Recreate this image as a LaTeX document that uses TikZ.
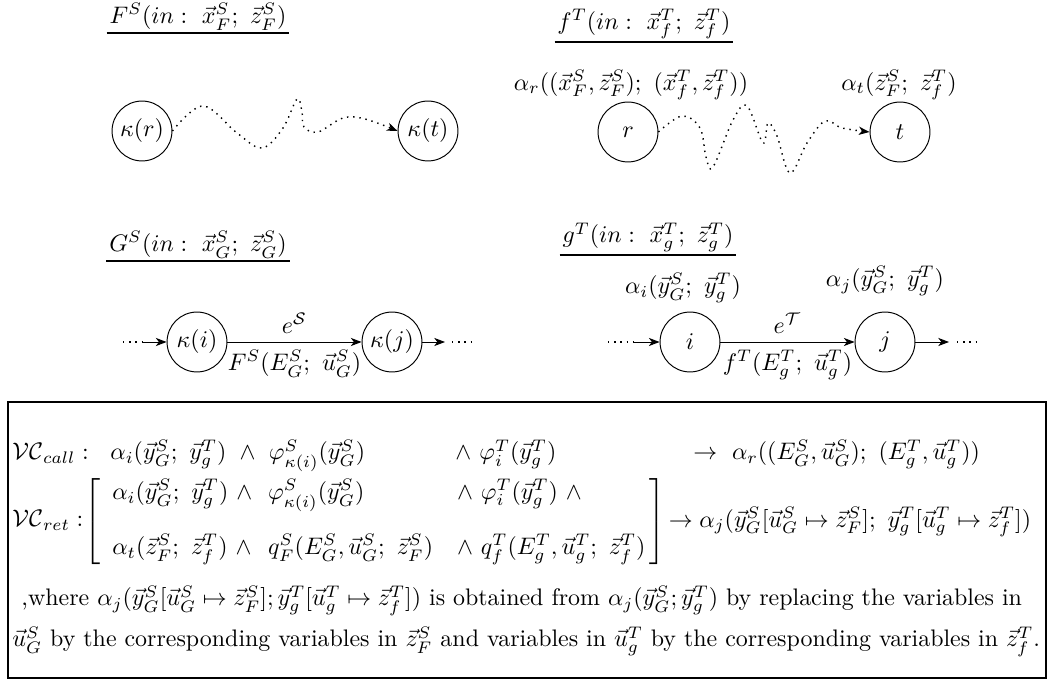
\documentclass[tikz,border=0pt]{standalone}
\usepackage{amsmath, amssymb}
\usetikzlibrary{arrows.meta}

\tikzset{
  state/.style={circle, draw, inner sep=0pt, minimum size=0.88cm},
  heading/.style={inner sep=1pt, anchor=south},
  tip/.style={-{Stealth[length=4.5pt, width=3.4pt, inset=1.3pt]}},
  wave/.style={dotted, semithick, tip},
  edge/.style={tip},
  lbl/.style={anchor=base west, inner sep=0pt}
}

\begin{document}
\begin{tikzpicture}[x=0.0147cm, y=-0.0147cm]
  \useasboundingbox (0,0) rectangle (1051,690);

  % headings
  \node[heading] (hF) at (198,33) {$F^S(in:\ \vec{x}^S_F;\ \vec{z}^S_F)$};
  \node[heading] (hf) at (644,42) {$f^T(in:\ \vec{x}^T_f;\ \vec{z}^T_f)$};
  \node[heading] (hG) at (198,261) {$G^S(in:\ \vec{x}^S_G;\ \vec{z}^S_G)$};
  \node[heading] (hg) at (648,255) {$g^T(in:\ \vec{x}^T_g;\ \vec{z}^T_g)$};
  \foreach \h in {hF,hf,hG,hg}
    \draw[line width=1.2pt] (\h.south west) -- (\h.south east);

  % states
  \node[state] (kr) at (142,131) {$\kappa(r)$};
  \node[state] (kt) at (428,131) {$\kappa(t)$};
  \node[state] (r) at (628,132) {$r$};
  \node[state] (t) at (900,132) {$t$};
  \node[state] (ki) at (197,342) {$\kappa(i)$};
  \node[state] (kj) at (392,342) {$\kappa(j)$};
  \node[state] (i) at (690,342) {$i$};
  \node[state] (j) at (885,342) {$j$};

  % invariants
  \node (ar) at (631,85) {$\alpha_r((\vec{x}^S_F,\vec{z}^S_F);\ (\vec{x}^T_f,\vec{z}^T_f))$};
  \node (at) at (899,85) {$\alpha_t(\vec{z}^S_F;\ \vec{z}^T_f)$};
  \node (ai) at (683,288) {$\alpha_i(\vec{y}^S_G;\ \vec{y}^T_g)$};
  \node (aj) at (885,281) {$\alpha_j(\vec{y}^S_G;\ \vec{y}^T_g)$};

  % paths
  \draw[wave] plot[smooth, tension=0.6] coordinates {(kr.east) (203,106) (237,133) (262,148)
    (283,128) (297,99) (302,112) (304,127) (318,132) (343,118) (365,119) (kt.west)};
  \draw[wave] plot[smooth, tension=0.6] coordinates {(r.east) (682,116) (700,128) (706,157)
    (713,167) (733,120) (747,106) (763,143) (768,123) (777,136) (790,173) (807,143)
    (825,121) (842,128) (t.west)};

  % call edges
  \coordinate (gs0) at (123,342);
  \coordinate (gs1) at (142,342);
  \coordinate (gs2) at (445,342);
  \coordinate (gs3) at (452,342);
  \coordinate (gs4) at (471,342);
  \draw[dotted, semithick] (gs0) -- (gs1);
  \draw[edge] (gs1) -- (ki);
  \draw[edge] (ki) -- node[above] {$e^{\mathcal{S}}$} node[below] {$F^S(E^S_G;\ \vec{u}^S_G)$} (kj);
  \draw[edge] (kj) -- (gs2);
  \draw[dotted, semithick] (gs3) -- (gs4);

  \coordinate (gt0) at (608,342);
  \coordinate (gt1) at (634,342);
  \coordinate (gt2) at (949,342);
  \coordinate (gt3) at (957,342);
  \coordinate (gt4) at (976,342);
  \draw[dotted, semithick] (gt0) -- (gt1);
  \draw[edge] (gt1) -- (i);
  \draw[edge] (i) -- node[above] {$e^{\mathcal{T}}$} node[below] {$f^T(E^T_g;\ \vec{u}^T_g)$} (j);
  \draw[edge] (j) -- (gt2);
  \draw[dotted, semithick] (gt3) -- (gt4);

  % conditions
  \draw[line width=1.2pt] (8,402) rectangle (1046,678);
  \node[lbl] (vccall) at (12,460) {$\mathcal{VC}_{call}:$};
  \node[lbl] (c1) at (110,460) {$\alpha_i(\vec{y}^S_G;\ \vec{y}^T_g)\ \wedge\ \varphi^S_{\kappa(i)}(\vec{y}^S_G)$};
  \node[lbl] (c2) at (455,460) {$\wedge\ \varphi^T_i(\vec{y}^T_g)$};
  \node[lbl] (c3) at (693,460) {$\rightarrow\ \alpha_r((E^S_G,\vec{u}^S_G);\ (E^T_g,\vec{u}^T_g))$};
  \node[lbl] (vcret) at (12,527) {$\mathcal{VC}_{ret}:$};
  \node[anchor=west, inner sep=0pt] (rb) at (84,522) {$\left[\begin{array}{l@{\ \ }ll@{\,}}
      \alpha_i(\vec{y}^S_G;\ \vec{y}^T_g)\ \wedge & \varphi^S_{\kappa(i)}(\vec{y}^S_G) & \wedge\ \varphi^T_i(\vec{y}^T_g)\ \wedge\\[11pt]
      \alpha_t(\vec{z}^S_F;\ \vec{z}^T_f)\ \wedge & q^S_F(E^S_G,\vec{u}^S_G;\ \vec{z}^S_F) & \wedge\ q^T_f(E^T_g,\vec{u}^T_g;\ \vec{z}^T_f)
    \end{array}\right]$};
  \node[anchor=west, inner sep=1pt] (r3) at (rb.east) {$\rightarrow\alpha_j(\vec{y}^S_G[\vec{u}^S_G\mapsto\vec{z}^S_F];\ \vec{y}^T_g[\vec{u}^T_g\mapsto\vec{z}^T_f])$};
  \node[lbl] (w1) at (21,606) {,where $\alpha_j(\vec{y}^S_G[\vec{u}^S_G\mapsto\vec{z}^S_F];\vec{y}^T_g[\vec{u}^T_g\mapsto\vec{z}^T_f])$ is obtained from $\alpha_j(\vec{y}^S_G;\vec{y}^T_g)$ by replacing the variables in};
  \node[lbl] (w2) at (12,647) {$\vec{u}^S_G$ by the corresponding variables in $\vec{z}^S_F$ and variables in $\vec{u}^T_g$ by the corresponding variables in $\vec{z}^T_f$.};
\end{tikzpicture}
\end{document}
